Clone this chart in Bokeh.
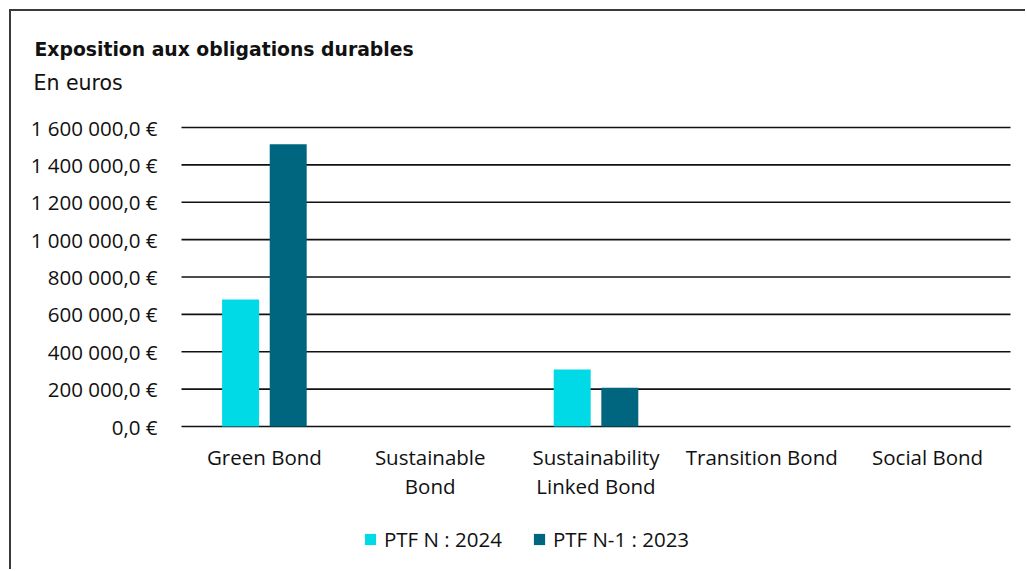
import numpy as np
from bokeh.plotting import figure
from bokeh.models import (Range1d, FixedTicker, Legend, LegendItem, Label,
                          LinearAxis, ColumnDataSource)
from bokeh.embed import file_html
from bokeh.resources import INLINE

# ---------------- data ----------------
categories = ["Green Bond", "Sustainable Bond", "Sustainability Linked Bond",
              "Transition Bond", "Social Bond"]
label_line1 = ["Green Bond", "Sustainable", "Sustainability", "Transition Bond", "Social Bond"]
label_line2 = ["", "Bond", "Linked Bond", "", ""]
series_names = ["PTF N : 2024", "PTF N-1 : 2023"]
values_2024 = [680000, 0, 305000, 0, 0]
values_2023 = [1510000, 0, 208000, 0, 0]
y_ticks = [0, 200000, 400000, 600000, 800000, 1000000, 1200000, 1400000, 1600000]
y_tick_labels = ["0,0 €", "200 000,0 €", "400 000,0 €", "600 000,0 €", "800 000,0 €",
                 "1 000 000,0 €", "1 200 000,0 €", "1 400 000,0 €", "1 600 000,0 €"]
title_text = "Exposition aux obligations durables"
subtitle_text = "En euros"
colors = ["#00D9E6", "#00657E"]

# ---------------- geometry (window pixels) ----------------
OX, OY = 11, 11                 # canvas origin (css margin 9 + border 2)
W, H = 1027 - OX, 571 - OY      # canvas size
FRAME_L, CAT_W = 181, 165.8     # plot area left edge, width of one category
Y0_PX, PX_PER_UNIT = 426, 299 / 1600000

x_start = (OX - FRAME_L) / CAT_W
x_end = (OX + W - FRAME_L) / CAT_W
y_end = (Y0_PX - OY) / PX_PER_UNIT
y_start = (Y0_PX - (OY + H)) / PX_PER_UNIT

def ux(px):   # window px -> x data
    return (px - FRAME_L) / CAT_W

def uy(py):   # window px -> y data
    return (Y0_PX - py) / PX_PER_UNIT

idx = np.arange(len(categories)) + 0.5
OFF, BW = 0.1436, 0.223

src = ColumnDataSource(dict(x24=idx - OFF, x23=idx + OFF,
                            v24=values_2024, v23=values_2023))

FONT = "Open Sans"
FS = "20.5px"
TXT = "#111111"

p = figure(width=W, height=H, title=None,
           x_range=Range1d(x_start, x_end), y_range=Range1d(y_start, y_end),
           x_axis_location=None, y_axis_location=None,
           output_backend="svg", toolbar_location=None,
           min_border=0)
p.styles = {"margin-left": "9px", "margin-top": "9px",
            "border-left": "2px solid #3a3a3a", "border-top": "2px solid #3a3a3a"}
p.outline_line_color = None
p.background_fill_color = "white"
p.border_fill_color = "white"
p.xgrid.visible = False
p.ygrid.visible = False

# horizontal grid lines across the category area
p.segment(x0=0, x1=len(categories), y0=y_ticks, y1=y_ticks,
          line_color="#111111", line_width=1.6)

r1 = p.vbar(x="x24", top="v24", width=BW, source=src,
            fill_color=colors[0], line_color=None)
r2 = p.vbar(x="x23", top="v23", width=BW, source=src,
            fill_color=colors[1], line_color=None)

# y axis fixed at the left edge of the category area
yax = LinearAxis(fixed_location=0, ticker=FixedTicker(ticks=y_ticks),
                 major_label_overrides={t: l for t, l in zip(y_ticks, y_tick_labels)})
yax.axis_line_color = None
yax.major_tick_line_color = None
yax.minor_tick_line_color = None
yax.major_tick_in = 0
yax.major_tick_out = 0
yax.major_label_standoff = 24
yax.major_label_text_font = FONT
yax.major_label_text_font_size = FS
yax.major_label_text_color = TXT
p.add_layout(yax, "left")


def make_xaxis(labels, standoff):
    ax = LinearAxis(fixed_location=0, ticker=FixedTicker(ticks=list(idx)),
                    major_label_overrides={float(t): l for t, l in zip(idx, labels)})
    ax.axis_line_color = None
    ax.major_tick_line_color = None
    ax.minor_tick_line_color = None
    ax.major_tick_in = 0
    ax.major_tick_out = 0
    ax.major_label_standoff = standoff
    ax.major_label_text_font = FONT
    ax.major_label_text_font_size = FS
    ax.major_label_text_color = TXT
    p.add_layout(ax, "below")


make_xaxis(label_line1, 16)
make_xaxis(label_line2, 45)

# titles
p.add_layout(Label(x=ux(34), y=uy(49), text=title_text,
                   text_font="DejaVu Sans", text_font_style="bold", text_font_size="18.8px",
                   text_color=TXT, text_baseline="alphabetic"))
p.add_layout(Label(x=ux(33), y=uy(82), text=subtitle_text,
                   text_font="DejaVu Sans", text_font_size="20.5px",
                   text_color=TXT, text_baseline="alphabetic"))

legend = Legend(items=[LegendItem(label=series_names[0], renderers=[r1]),
                       LegendItem(label=series_names[1], renderers=[r2])],
                orientation="horizontal", location=(363 - OX, 571 - 553),
                glyph_width=14, glyph_height=14, label_standoff=7, spacing=30,
                padding=0, margin=0, border_line_color=None,
                background_fill_alpha=0,
                label_text_font=FONT, label_text_font_size=FS, label_text_color=TXT)
p.add_layout(legend)

open("out.html", "w").write(file_html(p, INLINE))
